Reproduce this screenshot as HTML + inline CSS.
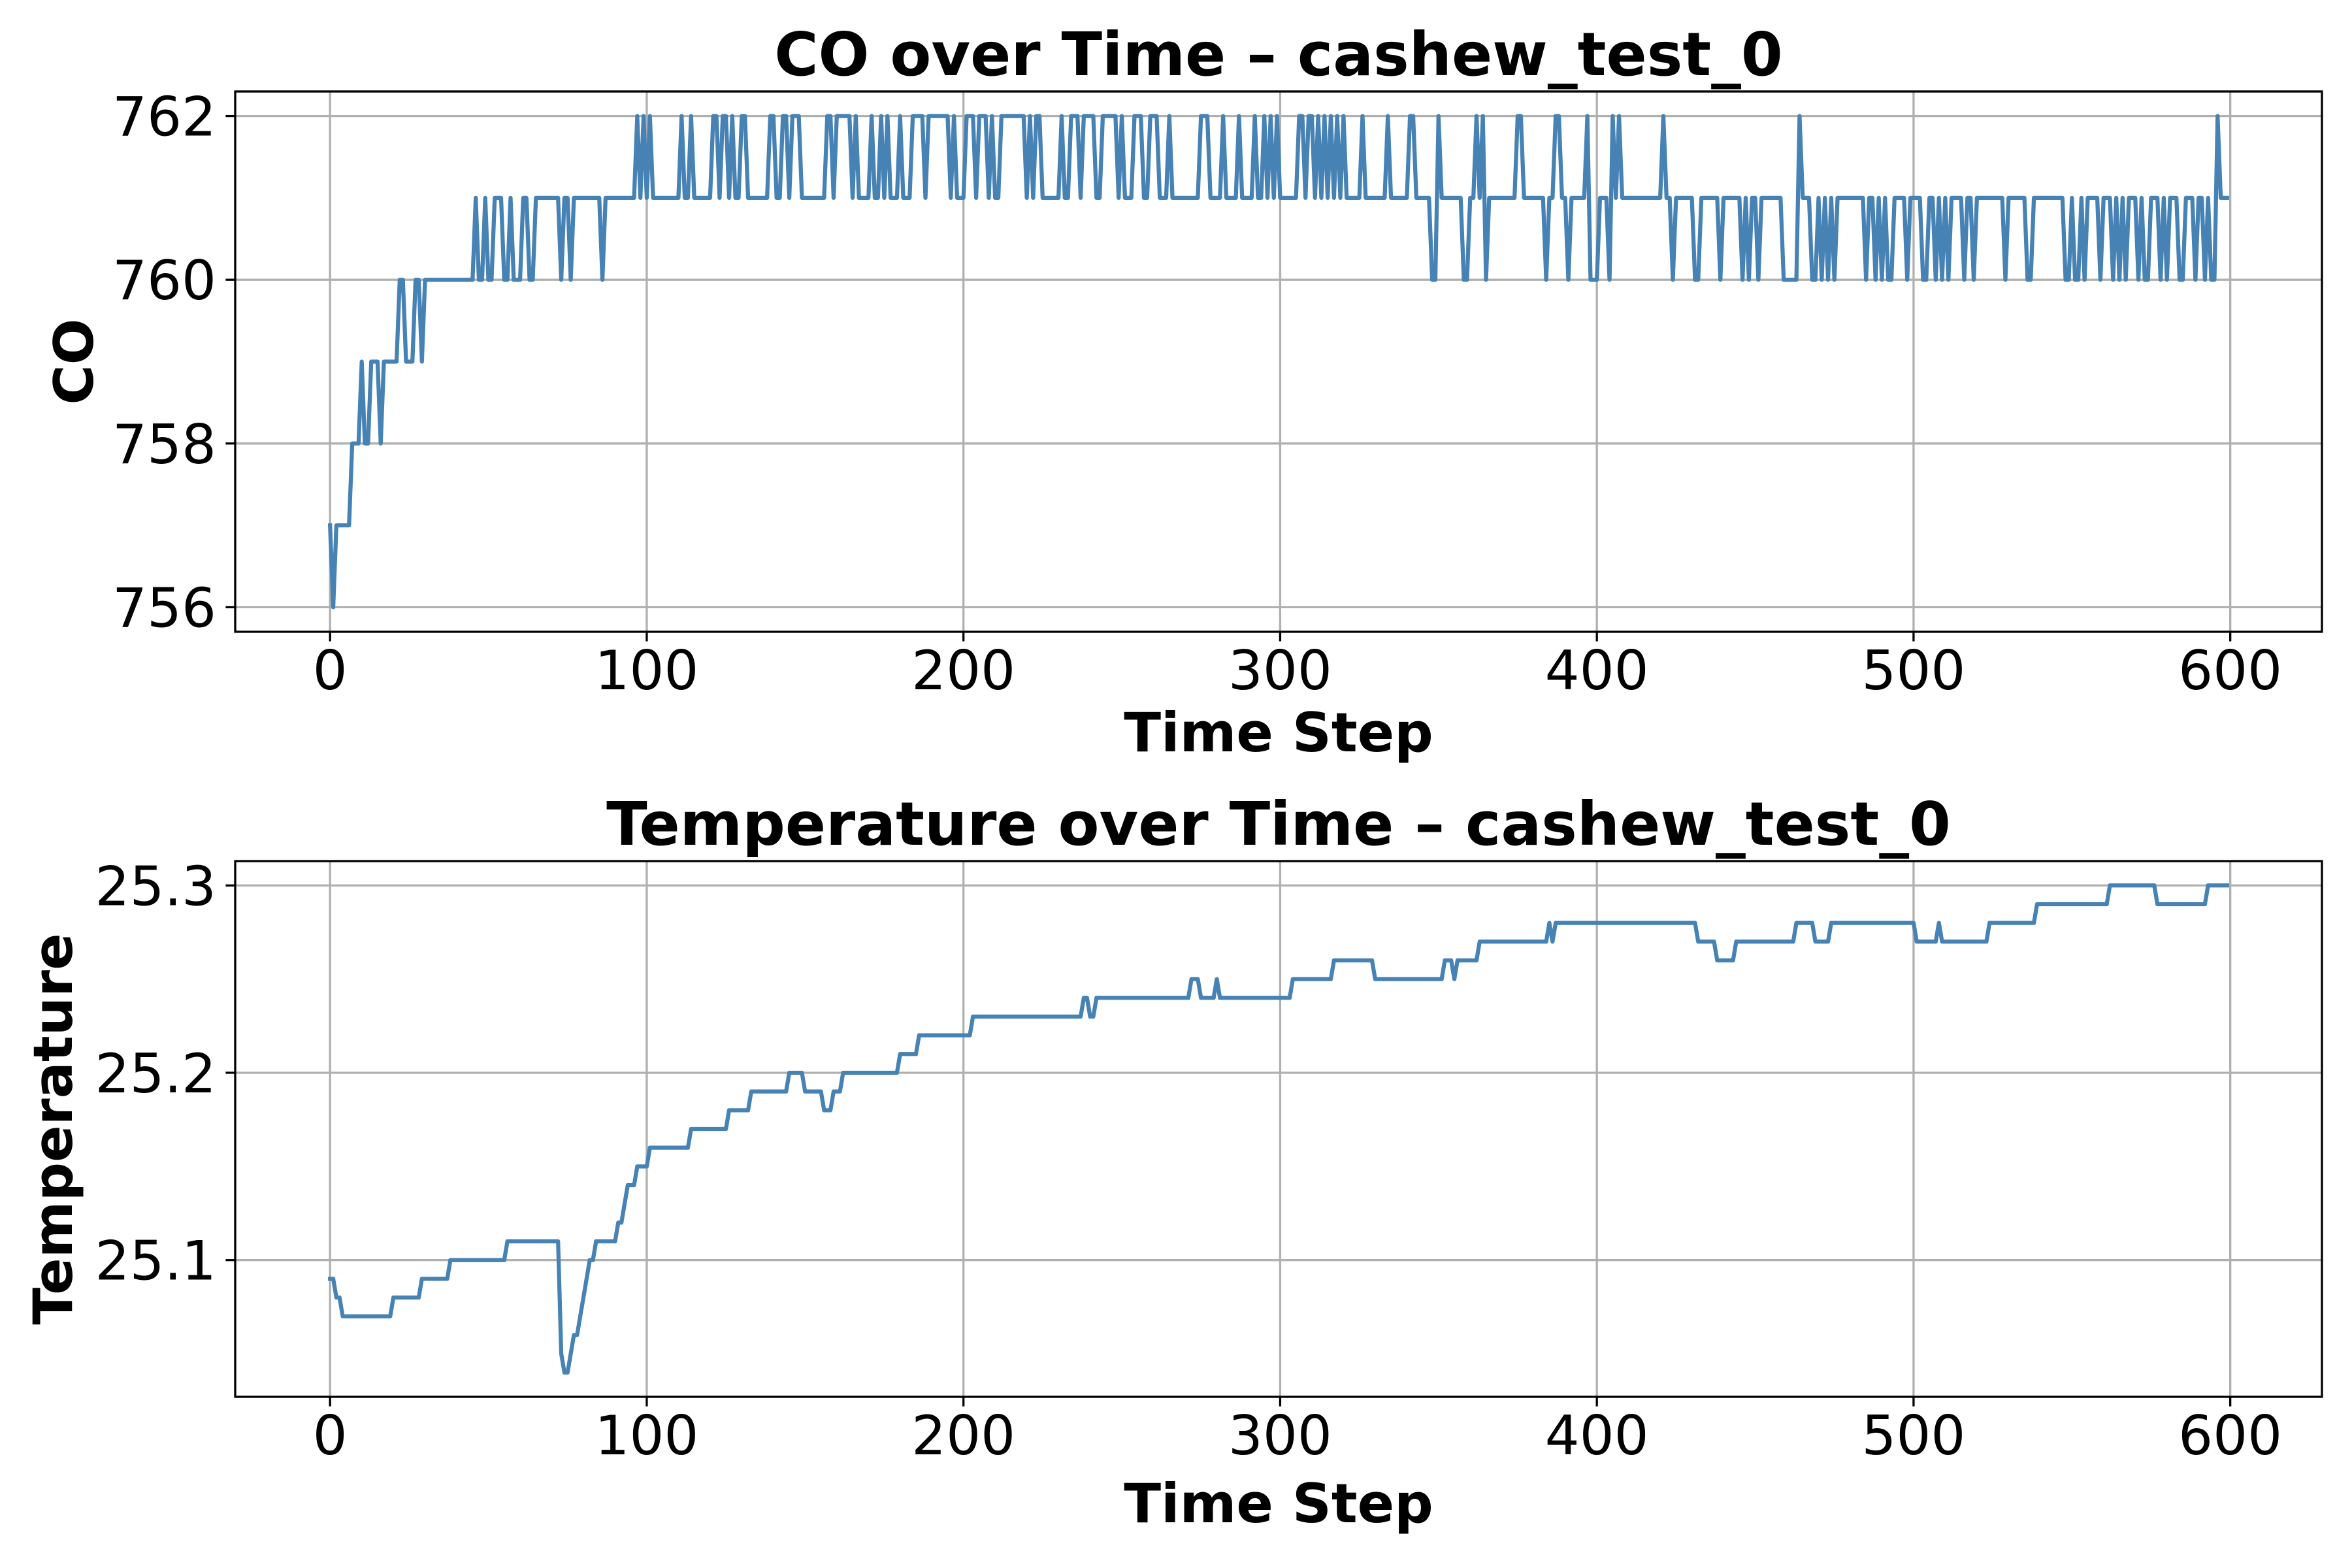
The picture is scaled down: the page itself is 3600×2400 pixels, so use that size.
<!DOCTYPE html>
<html>
<head>
<meta charset="utf-8">
<style>
  html, body { margin: 0; padding: 0; background: #ffffff; }
  svg { display: block; }
  text { font-family: "DejaVu Sans", "Liberation Sans", sans-serif; fill: #000; }
</style>
</head>
<body>
<svg id="chart" xmlns="http://www.w3.org/2000/svg" width="3600" height="2400" viewBox="0 0 3600 2400">
  <rect x="0" y="0" width="3600" height="2400" fill="#ffffff"></rect>
  <g id="co-panel"></g>
  <g id="temp-panel"></g>
</svg>
<script>
// ---- data: run-length change points (time step where a new value starts, value) ----
const numSteps = 600;
const xTicks = [0, 100, 200, 300, 400, 500, 600];
const xTickLabels = ["0", "100", "200", "300", "400", "500", "600"];

const coRunStart = [0,1,2,7,10,11,13,16,17,22,24,27,29,30,46,47,49,50,52,55,57,58,61,63,65,73,74,76,77,86,87,97,98,99,100,101,102,111,112,114,115,121,123,124,126,127,128,130,132,139,141,143,145,146,149,157,159,160,165,166,167,171,172,174,175,176,177,180,181,184,188,189,196,197,198,201,204,205,208,209,210,212,220,221,222,223,225,231,232,234,237,238,242,244,249,250,251,254,257,259,262,265,266,275,278,282,283,287,288,292,293,295,296,297,298,299,300,306,308,309,311,312,313,314,315,316,317,318,319,320,321,326,327,334,335,341,343,348,350,351,358,360,362,363,364,365,366,375,377,384,385,387,389,391,392,397,398,401,404,405,406,407,408,421,422,424,425,431,433,439,440,446,447,448,449,451,452,459,464,465,468,470,471,472,473,474,475,476,485,486,488,489,490,491,492,494,498,499,503,505,507,508,509,510,511,512,516,517,519,520,529,530,536,538,548,550,551,553,554,555,559,560,563,564,565,566,567,568,571,572,573,575,578,579,580,581,584,586,589,590,592,593,594,596,597];
const coRunValue = [757,756,757,758,759,758,759,758,759,760,759,760,759,760,761,760,761,760,761,760,761,760,761,760,761,760,761,760,761,760,761,762,761,762,761,762,761,762,761,762,761,762,761,762,761,762,761,762,761,762,761,762,761,762,761,762,761,762,761,762,761,762,761,762,761,762,761,762,761,762,761,762,761,762,761,762,761,762,761,762,761,762,761,762,761,762,761,762,761,762,761,762,761,762,761,762,761,762,761,762,761,762,761,762,761,762,761,762,761,762,761,762,761,762,761,762,761,762,761,762,761,762,761,762,761,762,761,762,761,762,761,762,761,762,761,762,761,760,762,761,760,761,762,761,762,760,761,762,761,760,761,762,761,760,761,762,760,761,760,762,761,762,761,762,761,760,761,760,761,760,761,760,761,760,761,760,761,760,762,761,760,761,760,761,760,761,760,761,760,761,760,761,760,761,760,761,760,761,760,761,760,761,760,761,760,761,760,761,760,761,760,761,760,761,760,761,760,761,760,761,760,761,760,761,760,761,760,761,760,761,760,761,760,761,760,761,760,761,760,761,760,761,760,762,761,760,761];
const coYTicks = [756, 758, 760, 762];
const coYTickLabels = ["756", "758", "760", "762"];

const tempRunStart = [0,2,4,20,29,38,56,73,74,76,77,79,80,81,82,84,91,93,94,97,101,114,126,133,145,150,156,159,162,180,186,203,238,240,242,272,275,280,281,304,317,330,352,355,356,363,385,386,387,432,438,444,463,469,474,501,508,509,524,539,562,577,593];
const tempRunValue = [25.09,25.08,25.07,25.08,25.09,25.10,25.11,25.05,25.04,25.05,25.06,25.07,25.08,25.09,25.10,25.11,25.12,25.13,25.14,25.15,25.16,25.17,25.18,25.19,25.20,25.19,25.18,25.19,25.20,25.21,25.22,25.23,25.24,25.23,25.24,25.25,25.24,25.25,25.24,25.25,25.26,25.25,25.26,25.25,25.26,25.27,25.28,25.27,25.28,25.27,25.26,25.27,25.28,25.27,25.28,25.27,25.28,25.27,25.28,25.29,25.30,25.29,25.30];
const tempYTicks = [25.1, 25.2, 25.3];
const tempYTickLabels = ["25.1", "25.2", "25.3"];

// ---- rendering ----
const NS = "http://www.w3.org/2000/svg";
function mk(tag, attrs, parent) {
  const el = document.createElementNS(NS, tag);
  for (const k in attrs) el.setAttribute(k, attrs[k]);
  parent.appendChild(el);
  return el;
}
function expand(starts, vals, n) {
  const out = [];
  let r = 0;
  for (let t = 0; t < n; t++) {
    while (r + 1 < starts.length && starts[r + 1] <= t) r++;
    out.push(vals[r]);
  }
  return out;
}

const TICK_FS = 83.3, LABEL_FS = 83.3, TITLE_FS = 91.7;

function drawPanel(g, cfg) {
  const L = cfg.left, R = cfg.right, T = cfg.top, B = cfg.bottom;
  const vals = expand(cfg.starts, cfg.vals, numSteps);
  let ymin = Math.min(...vals), ymax = Math.max(...vals);
  const ypad = (ymax - ymin) * 0.05 || 0.5;
  const y0 = ymin - ypad, y1 = ymax + ypad;
  const xmin = -0.05 * (numSteps - 1), xmax = (numSteps - 1) * 1.05;
  const xs = v => L + (v - xmin) / (xmax - xmin) * (R - L);
  const ys = v => B - (v - y0) / (y1 - y0) * (B - T);

  const grid = mk("g", {}, g);
  
  
  xTicks.forEach(v => {
    const x = xs(v);
    const ln = mk("line", {x1: x, x2: x, y1: T, y2: B, stroke: "#b0b0b0", "stroke-width": 3.3}, grid);
    
    
  });
  cfg.yTicks.forEach(v => {
    const y = ys(v);
    const ln = mk("line", {x1: L, x2: R, y1: y, y2: y, stroke: "#b0b0b0", "stroke-width": 3.3}, grid);
    
    
  });

  let d = "";
  vals.forEach((v, i) => { d += (i ? "L" : "M") + xs(i).toFixed(2) + " " + ys(v).toFixed(2); });
  const path = mk("path", {d: d, fill: "none", stroke: "#4682b4", "stroke-width": 6.25, "stroke-linejoin": "round", "stroke-linecap": "square"}, g);
  
  

  const frame = mk("rect", {x: L, y: T, width: R - L, height: B - T, fill: "none", stroke: "#000", "stroke-width": 3.3}, g);
  
  

  xTicks.forEach((v, i) => {
    const x = xs(v);
    const tk = mk("line", {x1: x, x2: x, y1: B, y2: B + 14.6, stroke: "#000", "stroke-width": 3.3}, g);
    
    
    const tx = mk("text", {x: x, y: B + 88, "font-size": TICK_FS, "text-anchor": "middle"}, g);
    tx.textContent = xTickLabels[i];
    
    
  });
  cfg.yTicks.forEach((v, i) => {
    const y = ys(v);
    const tk = mk("line", {x1: L - 14.6, x2: L, y1: y, y2: y, stroke: "#000", "stroke-width": 3.3}, g);
    
    
    const tx = mk("text", {x: L - 29, y: y + 30, "font-size": TICK_FS, "text-anchor": "end"}, g);
    tx.textContent = cfg.yTickLabels[i];
    
    
  });

  const cx = (L + R) / 2;
  const title = mk("text", {x: cx, y: cfg.titleY, "font-size": TITLE_FS, "font-weight": "bold", "text-anchor": "middle"}, g);
  title.textContent = cfg.title;
  
  

  const xl = mk("text", {x: cx, y: cfg.xLabelY, "font-size": LABEL_FS, "font-weight": "bold", "text-anchor": "middle"}, g);
  xl.textContent = "Time Step";
  
  

  const cy = (T + B) / 2;
  const yl = mk("text", {x: cfg.yLabelX, y: cy, "font-size": LABEL_FS, "font-weight": "bold", "text-anchor": "middle",
    transform: "rotate(-90 " + cfg.yLabelX + " " + cy + ")"}, g);
  yl.textContent = cfg.yLabel;
  
  
}

drawPanel(document.getElementById("co-panel"), {
  left: 360, right: 3554, top: 140, bottom: 967,
  starts: coRunStart, vals: coRunValue,
  yTicks: coYTicks, yTickLabels: coYTickLabels,
  title: "CO over Time \u2013 cashew_test_0", titleY: 115,
  xLabelY: 1150, yLabel: "CO", yLabelX: 142, seriesName: "co-line"
});
drawPanel(document.getElementById("temp-panel"), {
  left: 360, right: 3554, top: 1318, bottom: 2138,
  starts: tempRunStart, vals: tempRunValue,
  yTicks: tempYTicks, yTickLabels: tempYTickLabels,
  title: "Temperature over Time \u2013 cashew_test_0", titleY: 1293,
  xLabelY: 2330, yLabel: "Temperature", yLabelX: 110, seriesName: "temperature-line"
});
</script>
</body>
</html>
